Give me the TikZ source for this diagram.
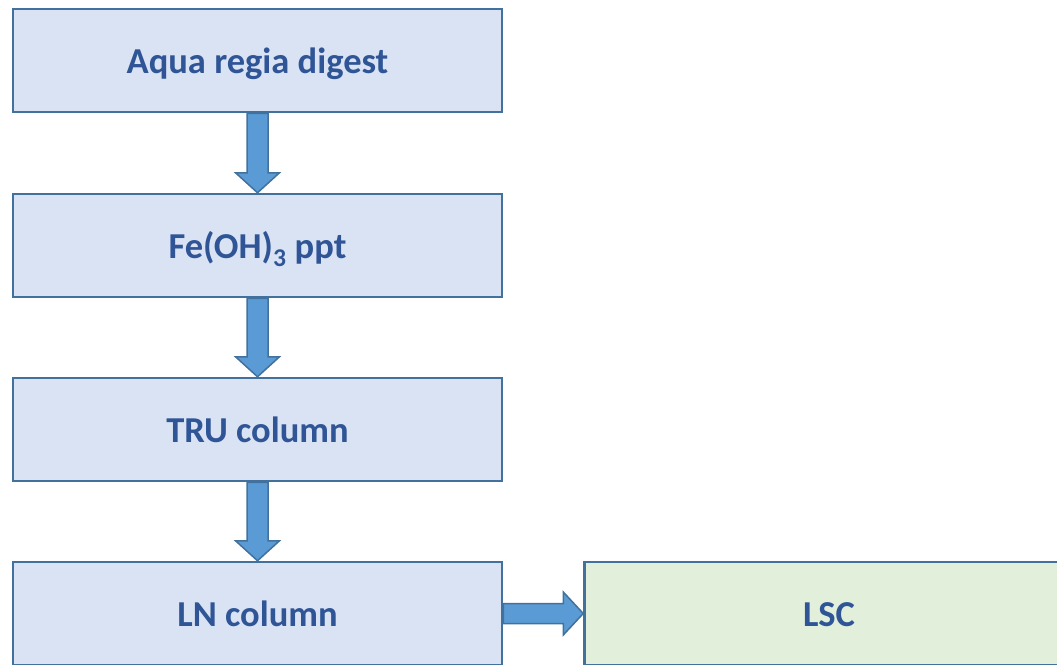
\documentclass[tikz,border=0pt]{standalone}
\usepackage{fontspec}
\setmainfont{Carlito}
\usetikzlibrary{calc}
\definecolor{boxfill}{HTML}{DAE3F3}
\definecolor{greenfill}{HTML}{E2EFDA}
\definecolor{boxline}{HTML}{41719C}
\definecolor{arrowfill}{HTML}{5B9BD5}
\definecolor{textblue}{HTML}{2F5597}
\tikzset{
  stepbox/.style={draw=boxline, line width=2.5pt, fill=boxfill, minimum width=489pt, minimum height=103pt, inner sep=0pt,
    text height=26pt, text depth=0pt,
    font=\fontsize{36.5pt}{42pt}\selectfont\bfseries, text=textblue},
  resultbox/.style={stepbox, fill=greenfill},
  barrow/.style={draw=boxline, line width=1.5pt, fill=arrowfill, line join=miter}
}
\begin{document}
\begin{tikzpicture}[x=1pt,y=-1pt]
\useasboundingbox (0,0) rectangle (1057,664);
\clip (0,0) rectangle (1057,664);
\node[stepbox] (a) at (257.5,60.5) {Aqua regia digest};
\node[stepbox] (b) at (257.5,245.5) {Fe(OH)\textsubscript{3} ppt};
\node[stepbox] (c) at (257.5,429.5) {TRU column};
\node[stepbox] (d) at (257.5,613.5) {LN column};
\node[resultbox] (e) at (829,613.5) {LSC};
\foreach \s/\t in {a/b,b/c,c/d}{
  \draw[barrow] ($(\s.south)+(-10.5,0)$) -- ($(\t.north)+(-10.5,-20)$) -- ($(\t.north)+(-22,-20)$) -- (\t.north)
    -- ($(\t.north)+(22,-20)$) -- ($(\t.north)+(10.5,-20)$) -- ($(\s.south)+(10.5,0)$) -- cycle;
}
\draw[barrow] ($(d.east)+(0,-10)$) -- ($(e.west)+(-20,-10)$) -- ($(e.west)+(-20,-21.5)$) -- (e.west)
  -- ($(e.west)+(-20,21.5)$) -- ($(e.west)+(-20,10)$) -- ($(d.east)+(0,10)$) -- cycle;
\end{tikzpicture}
\end{document}
